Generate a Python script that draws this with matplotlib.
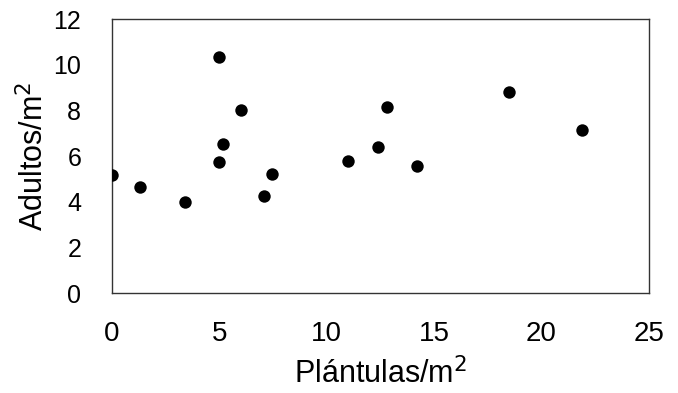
import matplotlib
matplotlib.use("Agg")
import matplotlib.pyplot as plt

plantulas = [0.0, 1.3, 3.4, 5.0, 6.0, 5.2, 5.0, 7.1, 7.45, 11.0, 12.4, 12.8, 14.2, 18.5, 21.9]
adultos   = [5.2, 4.66, 4.0, 10.35, 8.03, 6.54, 5.74, 4.28, 5.21, 5.78, 6.41, 8.15, 5.59, 8.82, 7.15]
xticks = [0, 5, 10, 15, 20, 25]
yticks = [0, 2, 4, 6, 8, 10, 12]

plt.rcParams['font.family'] = ['Liberation Sans', 'DejaVu Sans']

fig = plt.figure(figsize=(6.78, 3.93), dpi=100)
ax = fig.add_axes([0.1648, 0.2537, 0.792, 0.6972])
ax.scatter(plantulas, adultos, s=80, color='black', zorder=3, linewidths=0)
ax.set_xlim(0, 25)
ax.set_ylim(0, 12)
ax.set_xticks(xticks)
ax.set_yticks(yticks)
ax.tick_params(axis='both', length=0)
ax.tick_params(axis='x', pad=20, labelsize=20)
ax.tick_params(axis='y', pad=22, labelsize=18)
for sp in ax.spines.values():
    sp.set_linewidth(1.0)
    sp.set_color('#333333')
ax.set_xlabel('Plántulas/m$^2$', fontsize=22, labelpad=8)
ax.set_ylabel('Adultos/m$^2$', fontsize=22, labelpad=2)
fig.savefig('out.png', dpi=100)
